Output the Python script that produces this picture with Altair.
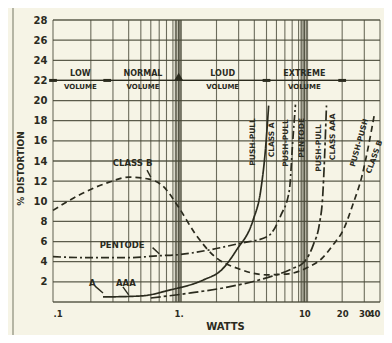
import altair as alt
import pandas as pd

# ---- data ----
classb_w = [0.1, 0.16, 0.28, 0.4, 0.58, 0.75, 1.0, 1.35, 1.9, 3.0, 5.0, 7.5, 10.5, 14, 17, 20.5, 24.5, 28.6, 32.5, 36.3]
classb_d = [9.1, 10.6, 11.9, 12.4, 12.2, 11.5, 9.4, 6.8, 4.6, 3.3, 2.7, 2.8, 3.4, 4.4, 5.7, 7.2, 9.8, 12.4, 15.6, 18.8]

pent_w = [0.1, 0.2, 0.4, 0.7, 1.0, 1.8, 3.0, 5.1, 6.5, 7.6, 8.1, 8.5]
pent_d = [4.5, 4.4, 4.4, 4.6, 4.7, 5.2, 5.8, 6.5, 8.6, 11.1, 16.1, 19.6]

classa_w = [0.25, 0.5, 0.86, 1.58, 2.2, 2.9, 3.9, 4.5, 4.9, 5.2]
classa_d = [0.5, 0.6, 1.2, 2.2, 3.2, 5.2, 8.1, 11.1, 15.1, 19.5]

aaa_w = [0.6, 1.25, 2.5, 5.0, 8.0, 10.0, 11.8, 13.2, 14.0, 14.5, 15.0]
aaa_d = [0.4, 0.9, 1.5, 2.4, 3.3, 4.0, 5.7, 7.8, 10.5, 14.5, 19.5]

series_names = ["Class A", "Class B", "Pentode", "Class AAA"]
series_dash = [[1, 0], [6, 4], [8, 3, 2, 3], [10, 3, 3, 3]]

x_tick_values = [0.1, 1, 10, 20, 30, 40]
y_tick_values = [2, 4, 6, 8, 10, 12, 14, 16, 18, 20, 22, 24, 26, 28]

vgrid = [0.1, 0.2, 0.3, 0.4, 0.5, 0.6, 0.7, 0.8, 0.9,
         1, 2, 3, 4, 5, 6, 7, 8, 9, 10, 20, 30, 40]
vgrid_heavy = [0.95, 1.0, 1.04, 9.5, 10.0, 10.5]
hgrid = [0, 2, 4, 6, 8, 10, 12, 14, 16, 18, 20, 22, 24, 26, 28]

vol_bounds = [0.1, 0.27, 5.0, 20.0]
vol_arrow = [1.0]
vol_words_top = ["LOW", "NORMAL", "LOUD", "EXTREME"]
vol_words_bottom = ["VOLUME", "VOLUME", "VOLUME", "VOLUME"]
vol_centres = [0.165, 0.52, 2.24, 10.0]

curve_label_text = ["PUSH-PULL", "CLASS A", "PUSH-PULL", "PENTODE",
                    "PUSH-PULL", "CLASS AAA", "PUSH-PUSH", "CLASS B"]
curve_label_w = [3.9, 5.5, 7.2, 9.5, 13.2, 17.0, 27.5, 36.3]
curve_label_d = [15.9, 16.1, 15.8, 16.3, 15.3, 16.4, 15.8, 14.4]
curve_label_angle = [270, 270, 270, 270, 270, 270, 286, 290]

note_text = ["CLASS B", "PENTODE", "A", "AAA"]
note_w = [0.43, 0.355, 0.205, 0.38]
note_d = [13.8, 5.7, 1.9, 1.9]

arrow_w = [0.56, 0.62, 0.215, 0.36]
arrow_w2 = [0.6, 0.7, 0.25, 0.4]
arrow_d = [13.1, 5.4, 1.6, 1.5]
arrow_d2 = [12.4, 4.8, 0.9, 0.7]

# ---- tables ----
rows = []
for name, ws, ds in [("Class A", classa_w, classa_d), ("Class B", classb_w, classb_d),
                     ("Pentode", pent_w, pent_d), ("Class AAA", aaa_w, aaa_d)]:
    for i, (w, d) in enumerate(zip(ws, ds)):
        rows.append({"series": name, "watts": w, "dist": d, "order": i})
df = pd.DataFrame(rows)

INK = "#2b2b1e"
GRID = "#4a4a3a"
BG = "#f6f4e6"
FONT = "DejaVu Sans"
NB = "\u00a0"

xscale = alt.Scale(type="log", domain=[0.1, 40], nice=False)
yscale = alt.Scale(domain=[0, 28], nice=False)

XAX = alt.Axis(values=x_tick_values, grid=False, ticks=False, domain=False, labelOverlap=False,
               labelFlush=True,
               labelExpr="datum.value == 0.1 ? '.1' : datum.value == 1 ? '1.' : datum.value == 30 ? '30" + NB * 4 + "' : datum.value == 40 ? '" + NB * 2 + "40' : format(datum.value, 'd')",
               labelFont=FONT, labelFontWeight="bold", labelFontSize=8.5, labelColor=INK,
               labelPadding=7, title="WATTS", titleFont=FONT, titleFontWeight="bold",
               titleFontSize=10, titleColor=INK, titleX=172, titleY=19)
YAX = alt.Axis(values=y_tick_values, grid=False, ticks=False, domain=False, labelOverlap=False,
               labelFont=FONT, labelFontWeight="bold", labelFontSize=10, labelColor=INK,
               labelPadding=6, title="% DISTORTION", titleFont=FONT, titleFontWeight="bold",
               titleFontSize=9, titleColor=INK, titleX=-28, titleY=148)


def X(field):
    return alt.X(field, scale=xscale, axis=XAX)


def Y(field):
    return alt.Y(field, scale=yscale, axis=YAX)


vg = alt.Chart(pd.DataFrame({"w": vgrid})).mark_rule(color=GRID, strokeWidth=1.1, opacity=0.8).encode(
    x=X("w:Q"))
vgh = alt.Chart(pd.DataFrame({"w": vgrid_heavy})).mark_rule(color=GRID, strokeWidth=2.2, opacity=0.75).encode(
    x=X("w:Q"))
hg = alt.Chart(pd.DataFrame({"d": hgrid})).mark_rule(color=GRID, strokeWidth=1.3, opacity=0.9).encode(
    y=Y("d:Q"))

lines = alt.Chart(df).mark_line(color=INK, strokeWidth=1.7, interpolate="monotone").encode(
    x=X("watts:Q"),
    y=Y("dist:Q"),
    detail="series:N",
    order="order:Q",
    strokeDash=alt.StrokeDash("series:N", scale=alt.Scale(domain=series_names, range=series_dash), legend=None),
)

vol_df = pd.DataFrame({"w": vol_centres, "top": vol_words_top, "bottom": vol_words_bottom})
vol_top = alt.Chart(vol_df).mark_text(font=FONT, fontWeight="bold", fontSize=8, color=INK, dy=-6).encode(
    x=X("w:Q"), y=Y("yy:Q"), text="top:N").transform_calculate(yy="22")
vol_bot = alt.Chart(vol_df).mark_text(font=FONT, fontWeight="bold", fontSize=7, color=INK, dy=7).encode(
    x=X("w:Q"), y=Y("yy:Q"), text="bottom:N").transform_calculate(yy="22")
vol_line = alt.Chart(pd.DataFrame({"a": [vol_bounds[0]], "b": [vol_bounds[-1]]})).mark_rule(
    color=INK, strokeWidth=1.2).encode(
    x=X("a:Q"), x2="b:Q", y=Y("yy:Q")).transform_calculate(yy="22")
vol_marks = alt.Chart(pd.DataFrame({"w": vol_bounds})).mark_point(
    shape="M-1,0L1,0", size=60, strokeWidth=3, color=INK, opacity=1).encode(
    x=X("w:Q"), y=Y("yy:Q")).transform_calculate(yy="22")
vol_tri = alt.Chart(pd.DataFrame({"w": vol_arrow})).mark_point(
    shape="triangle-up", size=70, filled=True, color=INK, opacity=1).encode(
    x=X("w:Q"), y=Y("yy:Q")).transform_calculate(yy="22.4")

cl_df = pd.DataFrame({"t": curve_label_text, "w": curve_label_w, "d": curve_label_d, "a": curve_label_angle})
curve_labels = alt.Chart(cl_df).mark_text(font=FONT, fontWeight="bold", fontSize=7.5, color=INK,
                                          baseline="middle", align="center").encode(
    x=X("w:Q"), y=Y("d:Q"), text="t:N",
    angle=alt.Angle("a:Q", scale=None))

nt_df = pd.DataFrame({"t": note_text, "w": note_w, "d": note_d})
notes = alt.Chart(nt_df).mark_text(font=FONT, fontWeight="bold", fontSize=8.5, color=INK).encode(
    x=X("w:Q"), y=Y("d:Q"), text="t:N")

ar_df = pd.DataFrame({"w": arrow_w, "w2": arrow_w2, "d": arrow_d, "d2": arrow_d2})
arrows = alt.Chart(ar_df).mark_rule(color=INK, strokeWidth=1.4).encode(
    x=X("w:Q"), x2="w2:Q", y=Y("d:Q"), y2="d2:Q")

one = pd.DataFrame({"k": [0]})
frame_top = alt.Chart(one).mark_rule(color="#8a8a78", strokeWidth=1.2).encode(
    x=alt.value(-40), x2=alt.value(334), y=alt.value(-14))
frame_left = alt.Chart(one).mark_rule(color="#8a8a78", strokeWidth=1.2).encode(
    x=alt.value(-40), y=alt.value(-14), y2=alt.value(318))
frame_bottom = alt.Chart(one).mark_rule(color="#8a8a78", strokeWidth=1.2).encode(
    x=alt.value(-40), x2=alt.value(-8), y=alt.value(318))
frame_right = alt.Chart(one).mark_rule(color="#5e6040", strokeWidth=2.2).encode(
    x=alt.value(334), y=alt.value(-12), y2=alt.value(325))

chart = alt.layer(
    hg, vg, vgh, lines, vol_line, vol_marks, vol_tri, vol_top, vol_bot,
    curve_labels, notes, arrows, frame_top, frame_left, frame_bottom, frame_right
).properties(
    width=327, height=282,
    autosize=alt.AutoSizeParams(type="none"),
    padding={"left": 45, "top": 12, "right": 4, "bottom": 33},
    background=BG,
).configure_view(stroke=None)

chart.save("out.html", embed_options={"renderer": "svg", "actions": False})
